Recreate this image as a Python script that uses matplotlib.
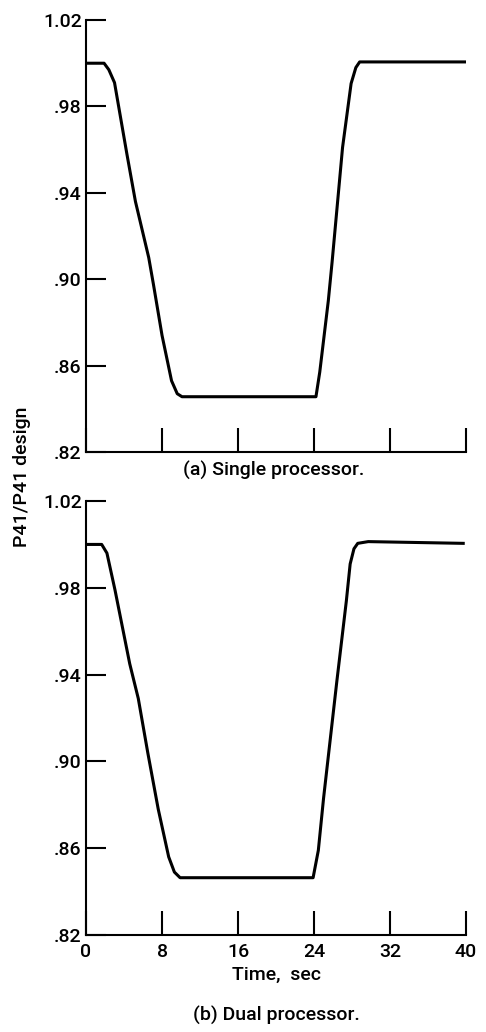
import matplotlib
matplotlib.use("Agg")
import matplotlib.pyplot as plt

plt.rcParams['font.family'] = ['Roboto', 'DejaVu Sans']
plt.rcParams['font.weight'] = 'medium'
plt.rcParams['axes.labelweight'] = 'medium'

# single processor
t_single = [0, 1.9, 2.4, 3.0, 4.3, 5.2, 6.6, 7.1, 8.0, 9.0, 9.6, 10.1,
            24.2, 24.6, 25.5, 25.9, 27.0, 27.9, 28.4, 28.8, 40]
p_single = [1.0, 1.0, 0.997, 0.991, 0.958, 0.936, 0.910, 0.8975, 0.874, 0.853, 0.847, 0.8456,
            0.8456, 0.857, 0.89, 0.908, 0.961, 0.9906, 0.998, 1.0006, 1.0006]

# dual processor
t_dual = [0, 1.65, 2.2, 3.05, 4.6, 5.5, 6.5, 7.6, 8.7, 9.3, 9.9,
          23.9, 24.45, 25.0, 25.7, 26.4, 27.4, 27.8, 28.2, 28.6, 29.7, 39.7]
p_dual = [1.0, 1.0, 0.996, 0.979, 0.945, 0.929, 0.904, 0.878, 0.856, 0.849, 0.8464,
          0.8464, 0.859, 0.883, 0.910, 0.937, 0.974, 0.991, 0.998, 1.0005, 1.0013, 1.0005]

xticks = [0, 8, 16, 24, 32, 40]
yticks = [0.82, 0.86, 0.90, 0.94, 0.98, 1.02]
ylabels = ['.82', '.86', '.90', '.94', '.98', '1.02']

fig = plt.figure(figsize=(4.86, 10.32), dpi=100)
ax1 = fig.add_axes([0.177, 0.562, 0.782, 0.4186])
ax2 = fig.add_axes([0.177, 0.094, 0.782, 0.4205])

for ax, t, p in [(ax1, t_single, p_single), (ax2, t_dual, p_dual)]:
    ax.plot(t, p, color='black', lw=2.2, solid_joinstyle='round')
    ax.set_xlim(0, 40)
    ax.set_ylim(0.82, 1.02)
    ax.spines['top'].set_visible(False)
    ax.spines['right'].set_visible(False)
    for s in ['left', 'bottom']:
        ax.spines[s].set_linewidth(1.5)
    ax.set_xticks(xticks)
    ax.set_yticks(yticks)
    ax.set_yticklabels(ylabels)
    ax.tick_params(axis='y', direction='in', length=14.5, width=1.5, pad=3, labelsize=14)
    ax.tick_params(axis='x', direction='in', length=17, width=1.5, pad=6, labelsize=14)

ax1.set_xticklabels([])
ax2.set_xlabel('Time,  sec', fontsize=14, labelpad=3)

fig.text(0.564, 1 - 470 / 1032, '(a) Single processor.', ha='center', va='center', fontsize=14)
fig.text(0.568, 1 - 1015 / 1032, '(b) Dual processor.', ha='center', va='center', fontsize=14)
fig.text(22 / 486, 1 - 477 / 1032, 'P41/P41 design', rotation=90, ha='center', va='center', fontsize=14)

fig.savefig('out.png', dpi=100)
